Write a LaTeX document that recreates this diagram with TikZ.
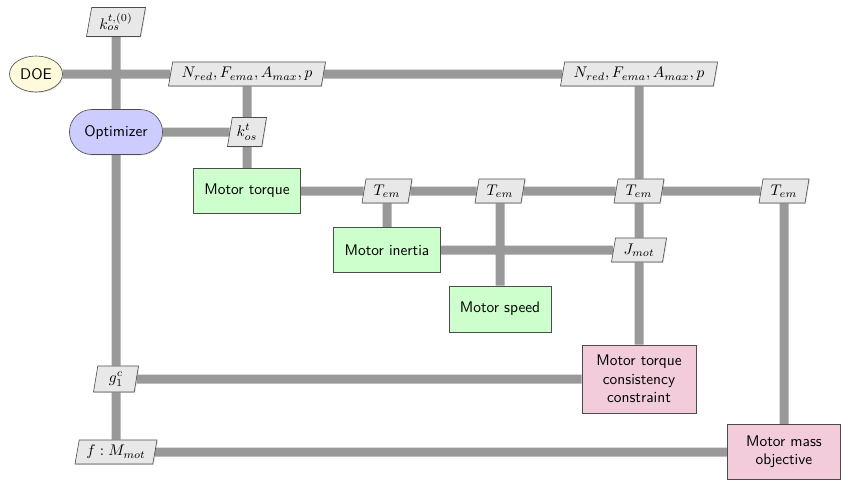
\documentclass[tikz,border=0pt]{standalone}
\usetikzlibrary{shapes.geometric,shapes.misc,shadows,backgrounds}
\definecolor{doefill}{RGB}{255,250,220}
\definecolor{optfill}{RGB}{204,204,255}
\definecolor{anfill}{RGB}{204,255,204}
\definecolor{funcfill}{RGB}{242,204,218}
\definecolor{datafill}{RGB}{232,232,232}
\definecolor{linegray}{RGB}{153,153,153}
\tikzset{
  base/.style={draw=black!70, line width=0.4pt, font=\sffamily, align=center,
    drop shadow={opacity=0.25, shadow xshift=0.6pt, shadow yshift=-0.6pt}},
  doenode/.style={base, ellipse, fill=doefill, minimum width=53*0.65pt, minimum height=36*0.65pt, inner sep=0pt},
  optnode/.style={base, rounded rectangle, fill=optfill, minimum height=45*0.65pt, inner xsep=9pt},
  annode/.style={base, rectangle, fill=anfill, minimum height=45*0.65pt},
  funcnode/.style={base, rectangle, fill=funcfill},
  datanode/.style={base, trapezium, trapezium left angle=77, trapezium right angle=103,
    trapezium stretches body, fill=datafill, minimum height=24*0.65pt, inner xsep=2pt, inner ysep=1.5pt},
  dataline/.style={draw=linegray, line width=9*0.65pt}
}
\begin{document}
\begin{tikzpicture}[x=0.65pt,y=-0.65pt]
\useasboundingbox (0,0) rectangle (843,481);
% nodes
\node[datanode, minimum width=59*0.65pt, minimum height=29*0.65pt] (k0) at (116,22) {$k_{os}^{t,(0)}$};
\node[doenode] (doe) at (36,74) {DOE};
\node[datanode, minimum width=157*0.65pt] (n1) at (247,74) {$N_{red}, F_{ema}, A_{max}, p$};
\node[datanode, minimum width=157*0.65pt] (n2) at (639,74) {$N_{red}, F_{ema}, A_{max}, p$};
\node[optnode] (opt) at (116,132) {Optimizer};
\node[datanode, minimum width=39*0.65pt, minimum height=29*0.65pt] (kos) at (247,132) {$k_{os}^{t}$};
\node[annode, minimum width=107*0.65pt] (mt) at (247,191) {Motor torque};
\node[datanode, minimum width=50*0.65pt] (t1) at (387,191) {$T_{em}$};
\node[datanode, minimum width=50*0.65pt] (t2) at (500,191) {$T_{em}$};
\node[datanode, minimum width=50*0.65pt] (t3) at (639,191) {$T_{em}$};
\node[datanode, minimum width=50*0.65pt] (t4) at (784,191) {$T_{em}$};
\node[annode, minimum width=107*0.65pt] (mi) at (387,250) {Motor inertia};
\node[datanode, minimum width=55*0.65pt] (jm) at (639,250) {$J_{mot}$};
\node[annode, minimum width=102*0.65pt, minimum height=46*0.65pt] (ms) at (500,309) {Motor speed};
\node[funcnode, minimum width=114*0.65pt, minimum height=68*0.65pt] (tc) at (639,379) {Motor torque\\consistency\\constraint};
\node[datanode, minimum width=45*0.65pt, minimum height=26*0.65pt] (g1) at (116,379) {$g_1^c$};
\node[datanode, minimum width=82*0.65pt] (f) at (116,452) {$f: M_{mot}$};
\node[funcnode, minimum width=113*0.65pt, minimum height=55*0.65pt] (mm) at (784,452) {Motor mass\\objective};
% lines
\begin{pgfonlayer}{background}
\draw[dataline] (doe) -- (n1) -- (n2);
\draw[dataline] (k0) -- (opt) -- (g1) -- (f);
\draw[dataline] (opt) -- (kos);
\draw[dataline] (n1) -- (kos) -- (mt);
\draw[dataline] (mt) -- (t1) -- (t2) -- (t3) -- (t4);
\draw[dataline] (t1) -- (mi);
\draw[dataline] (t2) -- (ms);
\draw[dataline] (mi) -- (jm);
\draw[dataline] (n2) -- (t3) -- (jm) -- (tc);
\draw[dataline] (t4) -- (mm);
\draw[dataline] (tc) -- (g1);
\draw[dataline] (mm) -- (f);
\end{pgfonlayer}
\end{tikzpicture}
\end{document}
